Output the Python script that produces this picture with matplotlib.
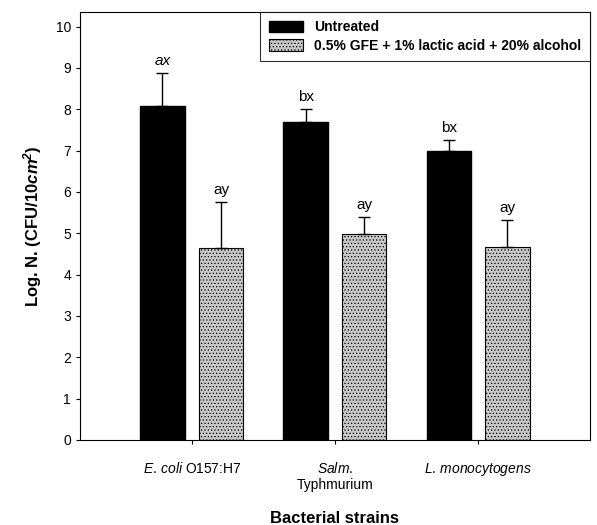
import matplotlib
matplotlib.use("Agg")
import matplotlib.pyplot as plt
import numpy as np

plt.rcParams['font.family'] = ['Liberation Sans', 'DejaVu Sans']
plt.rcParams['mathtext.fontset'] = 'custom'
plt.rcParams['mathtext.rm'] = 'Liberation Sans'
plt.rcParams['mathtext.it'] = 'Liberation Sans:italic'
plt.rcParams['mathtext.bf'] = 'Liberation Sans:bold:italic'
plt.rcParams['hatch.linewidth'] = 0.5
plt.rcParams['hatch.color'] = '#808080'

# data
strains = [r'$E.\,coli$ O157:H7', '$Salm.$\nTyphmurium', r'$L.\,monocytogens$']
untreated = [8.07, 7.70, 6.98]
untreated_err = [0.80, 0.30, 0.27]
treated = [4.65, 4.97, 4.67]
treated_err = [1.10, 0.43, 0.66]
labels_untreated = ['ax', 'bx', 'bx']
labels_treated = ['ay', 'ay', 'ay']

fig = plt.figure(figsize=(5.97, 5.25), dpi=100)
ax = fig.add_axes([0.134, 0.162, 0.854, 0.815])

x = np.arange(len(strains))
w = 0.31
off = 0.205

zeros = np.zeros(len(x))
ax.bar(x - off, untreated, w, color='black', edgecolor='black',
       yerr=[zeros, untreated_err], capsize=4,
       error_kw=dict(elinewidth=1, capthick=1, ecolor='black'),
       label='Untreated')
ax.bar(x + off, treated, w, color='#c8c8c8', edgecolor='black', linewidth=0.8,
       hatch='.....', yerr=[zeros, treated_err], capsize=4,
       error_kw=dict(elinewidth=1, capthick=1, ecolor='black'),
       label='0.5% GFE + 1% lactic acid + 20% alcohol')

for i in range(len(x)):
    ax.text(x[i] - off, untreated[i] + untreated_err[i] + 0.12, labels_untreated[i],
            ha='center', va='bottom', fontsize=11,
            style='italic' if i == 0 else 'normal')
    ax.text(x[i] + off, treated[i] + treated_err[i] + 0.12, labels_treated[i],
            ha='center', va='bottom', fontsize=11)

ax.set_xlim(-0.78, 2.78)
ax.set_ylim(0, 10.35)
ax.set_yticks(range(0, 11))
ax.set_xticks(x)
ax.set_xticklabels(strains, fontsize=10)
ax.tick_params(axis='both', direction='out', length=3, labelsize=10)
ax.tick_params(axis='x', pad=12)

ax.set_ylabel(r'Log. N. (CFU/10$\mathbf{cm}^{\mathbf{2}}$)', fontsize=12,
              fontweight='bold', labelpad=8)
ax.set_xlabel('Bacterial strains', fontsize=12, fontweight='bold', labelpad=14)

leg = ax.legend(loc='upper right', fontsize=10, frameon=True, fancybox=False,
                edgecolor='black', borderaxespad=0.0, handlelength=2.5,
                handleheight=0.9, borderpad=0.6, labelspacing=0.3)
leg.get_frame().set_linewidth(0.8)
for t in leg.get_texts():
    t.set_fontweight('bold')

fig.savefig('out.png', dpi=100)
